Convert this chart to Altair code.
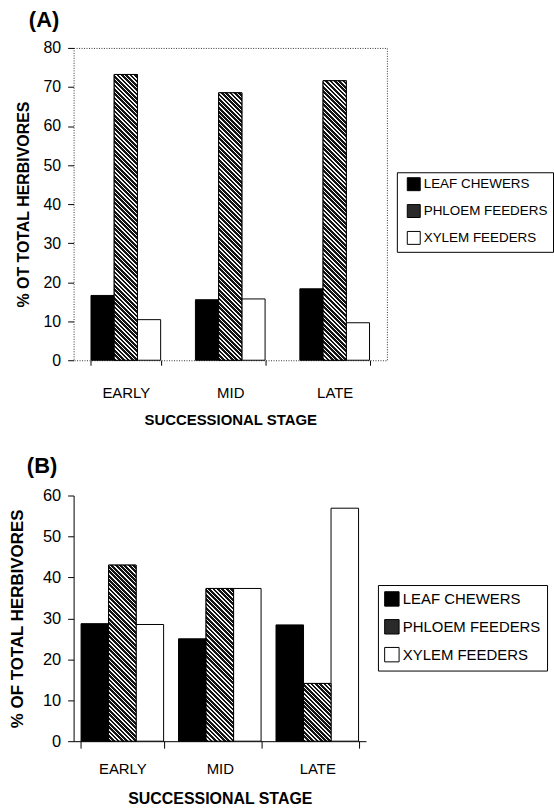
import math
import altair as alt
import pandas as pd

# ---------------- data ----------------
stages = ["EARLY", "MID", "LATE"]
groups = ["LEAF CHEWERS", "PHLOEM FEEDERS", "XYLEM FEEDERS"]

a_leaf = [16.6, 15.5, 18.3]
a_phloem = [73.2, 68.5, 71.6]
a_xylem = [10.4, 15.7, 9.6]

b_leaf = [28.7, 25.0, 28.4]
b_phloem = [43.0, 37.3, 14.1]
b_xylem = [28.5, 37.3, 56.9]

FONT = "Liberation Sans"


def make_df(leaf, phloem, xylem):
    rows = []
    for i, st in enumerate(stages):
        for g, vals in zip(groups, [leaf, phloem, xylem]):
            rows.append({"stage": st, "group": g, "value": vals[i]})
    return pd.DataFrame(rows)


def hatch(w, h, period=3.1, light_frac=0.38, dark="#141414", light="#f4f4f4"):
    """Linear gradient with hard stops giving '\\' diagonal stripes on a w x h bar."""
    k = (w + h) / (w * w + h * h)
    x2 = k * w
    y2 = 1 - k * h
    n = max(1, int(round((w + h) / (math.sqrt(2) * period))))
    stops = []
    for i in range(n):
        o0 = i / n
        o1 = (i + 1 - light_frac) / n
        o2 = (i + 1) / n
        stops += [
            {"offset": o0, "color": dark},
            {"offset": o1, "color": dark},
            {"offset": o1, "color": light},
            {"offset": o2, "color": light},
        ]
    return {"gradient": "linear", "x1": 0, "y1": 1, "x2": x2, "y2": y2, "stops": stops}


def panel(leaf, phloem, xylem, ymax, W, H, pin, ptitle, ytitle, fs, leg, framed, title_dx):
    df = make_df(leaf, phloem, xylem)
    bar_w = (W / 3.0) * (1 - pin) / 3.0
    x_enc = alt.X(
        "stage:N",
        sort=stages,
        scale=alt.Scale(domain=stages, paddingInner=pin, paddingOuter=pin / 2),
        axis=alt.Axis(
            title="SUCCESSIONAL STAGE",
            labelAngle=0,
            tickBand="extent",
            tickSize=fs["xtick"],
            tickColor="black",
            domain=not framed,
            domainColor="black",
            labelFont=FONT,
            labelFontSize=fs["xlab"],
            labelColor="black",
            labelPadding=fs["xlabpad"],
            titleFont=FONT,
            titleFontSize=fs["xtitle"],
            titleFontWeight="bold",
            titleColor="black",
            titlePadding=fs["xtitlepad"],
        ),
    )
    xo_enc = alt.XOffset(
        "group:N", sort=groups, scale=alt.Scale(domain=groups, paddingInner=0, paddingOuter=0)
    )
    y_enc = alt.Y(
        "value:Q",
        scale=alt.Scale(domain=[0, ymax], nice=False),
        axis=alt.Axis(
            title=ytitle,
            values=list(range(0, ymax + 1, 10)),
            grid=False,
            tickSize=6,
            tickColor="black",
            domain=not framed,
            domainColor="black",
            labelFont=FONT,
            labelFontSize=fs["ylab"],
            labelColor="black",
            labelPadding=7,
            titleFont=FONT,
            titleFontSize=fs["ytitle"],
            titleFontWeight="bold",
            titleColor="black",
            titlePadding=fs["ytitlepad"],
        ),
    )
    base = alt.Chart(df).encode(x=x_enc, xOffset=xo_enc, y=y_enc)
    bars = base.mark_bar(stroke="black", strokeWidth=1).encode(
        fill=alt.Fill(
            "group:N",
            sort=groups,
            scale=alt.Scale(domain=groups, range=["#000000", "#2a2a2a", "#ffffff"]),
            legend=alt.Legend(
                title=None,
                orient="none",
                legendX=leg["x"],
                legendY=leg["y"],
                strokeColor="black",
                padding=leg["pad"],
                symbolOffset=leg["symoff"],
                symbolType="square",
                symbolSize=fs["sym"],
                symbolStrokeColor="black",
                symbolStrokeWidth=1,
                labelFont=FONT,
                labelFontSize=fs["leg"],
                labelColor="black",
                labelOffset=3,
                rowPadding=fs["legrow"],
                fillColor="white",
            ),
        )
    )
    layers = [bars]
    for i, st in enumerate(stages):
        h = phloem[i] / ymax * H
        layers.append(
            base.transform_filter(
                (alt.datum.stage == st) & (alt.datum.group == "PHLOEM FEEDERS")
            ).mark_bar(fill=hatch(bar_w, h), stroke="black", strokeWidth=1)
        )
    if framed:
        view = alt.ViewBackground(stroke="#333333", strokeDash=[1, 1.5], strokeWidth=1)
    else:
        view = alt.ViewBackground(stroke="transparent")
    return alt.layer(*layers).properties(
        width=W,
        height=H,
        view=view,
        title=alt.TitleParams(
            text=ptitle,
            anchor="start",
            frame="group",
            dx=title_dx,
            fontSize=22,
            font=FONT,
            fontWeight="bold",
            color="black",
            offset=fs["toff"],
        ),
    )


fs_a = dict(xtick=5, xlab=15, xlabpad=20, xtitle=15, xtitlepad=13, ylab=16, ytitle=16,
            ytitlepad=12, sym=169, leg=13.5, legrow=9, toff=8)
fs_b = dict(xtick=7, xlab=15, xlabpad=14, xtitle=16, xtitlepad=14, ylab=16.5, ytitle=17,
            ytitlepad=16, sym=210, leg=15, legrow=8, toff=10)

chart_a = panel(a_leaf, a_phloem, a_xylem, 80, 315, 314, 0.333, "(A)",
                "% OT TOTAL HERBIVORES", fs_a,
                dict(x=325, y=125, pad=5, symoff=5), True, -45)
chart_b = panel(b_leaf, b_phloem, b_xylem, 60, 294, 247, 0.153, "(B)",
                "% OF TOTAL HERBIVORES", fs_b,
                dict(x=306, y=90, pad=6, symoff=0), False, -47)

chart = (
    alt.vconcat(chart_a, chart_b, spacing=25)
    .resolve_scale(fill="independent", x="independent", y="independent", xOffset="independent")
    .resolve_legend(fill="independent")
    .properties(padding={"left": 8, "top": 6, "right": 0, "bottom": 0}, background="white")
    .configure_view(strokeWidth=1)
)

chart.save("out.html", embed_options={"renderer": "svg", "actions": False})
